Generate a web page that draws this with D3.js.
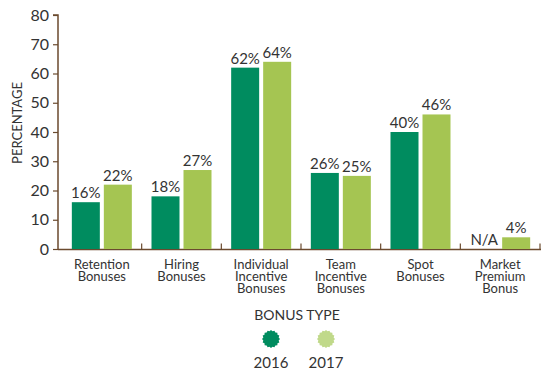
<!DOCTYPE html>
<html><head><meta charset="utf-8">
<script src="https://cdn.jsdelivr.net/npm/d3@7"></script>
<style>body{margin:0;background:#fff;} text{font-family:Lato,"Open Sans",sans-serif;fill:#333;}</style>
</head><body>
<svg id="c" width="554" height="383"></svg>
<script>
const categories = [["Retention","Bonuses"],["Hiring","Bonuses"],["Individual","Incentive","Bonuses"],["Team","Incentive","Bonuses"],["Spot","Bonuses"],["Market","Premium","Bonus"]];
const years = ["2016","2017"];
const values2016 = [16,18,62,26,40,null];
const values2017 = [22,27,64,25,46,4];
const yTicks = [0,10,20,30,40,50,60,70,80];
const colors = ["#008c5f","#a5c552"];
const legendColors = ["#008c5f","#c0d98a"];

const svg = d3.select("#c");
const axisCol = "#6b4a2e";
const x = d3.scaleBand().domain(d3.range(categories.length)).range([62,540]).paddingInner(0).paddingOuter(0);
const y = d3.scaleLinear().domain([0,80]).range([249,15]);
const bw = 28, gap = 4, pad = (x.bandwidth() - 2*bw - gap)/2;

// y axis
const ya = svg.append("g").attr("transform","translate(58,0)")
  .call(d3.axisLeft(y).tickValues(yTicks).tickSize(5).tickPadding(4));
ya.attr("font-size",null).attr("font-family",null);
ya.select(".domain").attr("stroke",axisCol).attr("stroke-width",1.5).attr("d","M-5,15H0V249");
ya.selectAll(".tick line").attr("stroke",axisCol).attr("stroke-width",1.2);
ya.selectAll(".tick text").style("font-size","16px").style("fill","#333");

// x axis line
svg.append("line").attr("x1",58).attr("x2",541).attr("y1",249.5).attr("y2",249.5).attr("stroke",axisCol).attr("stroke-width",1.5);
d3.range(1,categories.length+1).forEach(i=>{
  const xx = i<categories.length ? x(i) : x(i-1)+x.bandwidth();
  svg.append("line").attr("x1",xx).attr("x2",xx).attr("y1",243.5).attr("y2",250).attr("stroke",axisCol).attr("stroke-width",1.2);
});

const series = [values2016, values2017];
series.forEach((vals,si)=>{
  vals.forEach((v,i)=>{
    const bx = x(i)+pad+si*(bw+gap);
    if(v!==null){
      svg.append("rect").attr("x",bx).attr("y",y(v)).attr("width",bw).attr("height",y(0)-y(v)).attr("fill",colors[si]);
    }
    svg.append("text").attr("x",bx+bw/2).attr("y",(v!==null? y(v):y(0))-4)
      .attr("text-anchor","middle").style("font-size","15px").text(v!==null? v+"%":"N/A");
  });
});

// category labels
categories.forEach((lines,i)=>{
  const t = svg.append("text").attr("x",x(i)+x.bandwidth()/2).attr("y",269).attr("text-anchor","middle").style("font-size","13px");
  lines.forEach((l,j)=>t.append("tspan").attr("x",x(i)+x.bandwidth()/2).attr("dy",j?12:0).text(l));
});

// y label
svg.append("text").attr("transform","translate(22,123) rotate(-90)").attr("text-anchor","middle").style("font-size","13px").text("PERCENTAGE");

// legend
svg.append("text").attr("x",297).attr("y",320).attr("text-anchor","middle").style("font-size","14px").text("BONUS TYPE");
function star(cx,cy,r1,r2,n){
  const pts=[];
  for(let k=0;k<2*n;k++){const a=Math.PI*k/n; const r=k%2?r2:r1; pts.push([cx+r*Math.cos(a),cy+r*Math.sin(a)]);}
  return "M"+pts.map(p=>p.join(",")).join("L")+"Z";
}
const legX=[271,326];
years.forEach((yr,i)=>{
  svg.append("path").attr("d",star(legX[i],339,9,7.8,16)).attr("fill",legendColors[i]);
  svg.append("text").attr("x",legX[i]).attr("y",368).attr("text-anchor","middle").style("font-size","15px").text(yr);
});
</script>
</body></html>
